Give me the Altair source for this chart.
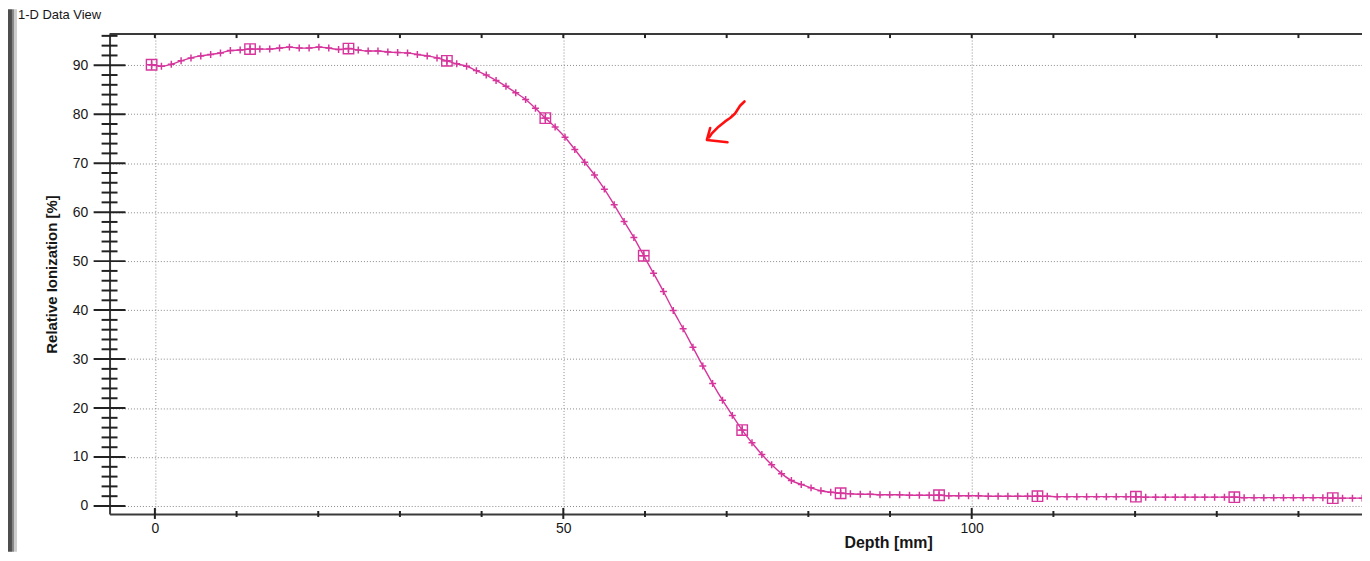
import altair as alt
import pandas as pd

# ---- measured depth-dose curve (depth in mm, relative ionization in %) ----
depth = [
    -0.40, 0.80, 2.01, 3.21, 4.42, 5.62, 6.83, 8.03, 9.24, 10.44,
    11.65, 12.85, 14.06, 15.26, 16.47, 17.67, 18.88, 20.08, 21.29, 22.49,
    23.70, 24.90, 26.11, 27.31, 28.52, 29.72, 30.93, 32.13, 33.34, 34.54,
    35.75, 36.95, 38.16, 39.36, 40.57, 41.77, 42.98, 44.18, 45.39, 46.59,
    47.80, 49.00, 50.21, 51.41, 52.62, 53.82, 55.03, 56.23, 57.44, 58.64,
    59.85, 61.05, 62.26, 63.46, 64.67, 65.87, 67.08, 68.28, 69.49, 70.69,
    71.90, 73.10, 74.31, 75.51, 76.72, 77.92, 79.13, 80.33, 81.54, 82.74,
    83.95, 85.15, 86.36, 87.56, 88.77, 89.97, 91.18, 92.38, 93.59, 94.79,
    96.00, 97.20, 98.41, 99.61, 100.82, 102.02, 103.23, 104.43, 105.64, 106.84,
    108.05, 109.25, 110.46, 111.66, 112.87, 114.07, 115.28, 116.48, 117.69, 118.89,
    120.10, 121.30, 122.51, 123.71, 124.92, 126.12, 127.33, 128.53, 129.74, 130.94,
    132.15, 133.35, 134.56, 135.76, 136.97, 138.17, 139.38, 140.58, 141.79, 142.99,
    144.20, 145.40, 146.61, 147.81, 149.02,
]
ionization = [
    90.1, 89.8, 90.2, 90.9, 91.5, 91.9, 92.2, 92.5, 93.0, 93.1,
    93.3, 93.3, 93.3, 93.5, 93.7, 93.5, 93.5, 93.7, 93.5, 93.2,
    93.4, 93.1, 92.9, 92.9, 92.7, 92.6, 92.5, 92.2, 91.9, 91.5,
    90.9, 90.3, 89.8, 88.9, 88.0, 86.9, 85.7, 84.4, 83.0, 81.2,
    79.2, 77.4, 75.3, 72.8, 70.2, 67.6, 64.7, 61.5, 58.1, 54.8,
    51.1, 47.5, 43.8, 39.9, 36.2, 32.4, 28.6, 25.0, 21.6, 18.5,
    15.5, 12.9, 10.5, 8.4, 6.6, 5.2, 4.4, 3.7, 3.1, 2.8,
    2.6, 2.5, 2.4, 2.4, 2.3, 2.3, 2.3, 2.2, 2.2, 2.2,
    2.2, 2.1, 2.1, 2.1, 2.1, 2.0, 2.0, 2.0, 2.0, 2.0,
    2.0, 2.0, 1.9, 1.9, 1.9, 1.9, 1.9, 1.9, 1.9, 1.9,
    1.9, 1.8, 1.8, 1.8, 1.8, 1.8, 1.8, 1.8, 1.8, 1.8,
    1.8, 1.7, 1.7, 1.7, 1.7, 1.7, 1.7, 1.7, 1.7, 1.7,
    1.6, 1.6, 1.6, 1.6, 1.6,
]

# ---- axis tick values ----
x_labels = [0, 50, 100]
x_minor = [10, 20, 30, 40, 60, 70, 80, 90, 110, 120, 130, 140]
x_top = [0, 10, 20, 30, 40, 50, 60, 70, 80, 90, 100, 110, 120, 130, 140]
y_major = [0, 10, 20, 30, 40, 50, 60, 70, 80, 90]
y_minor = [2, 4, 6, 8, 12, 14, 16, 18, 22, 24, 26, 28, 32, 34, 36, 38,
           42, 44, 46, 48, 52, 54, 56, 58, 62, 64, 66, 68, 72, 74, 76, 78,
           82, 84, 86, 88, 92, 94, 96]

# ---- hand-drawn red annotation arrow (in data coordinates) ----
arrow_x = [72.18, 71.64, 71.03, 70.42, 69.81, 69.01, 68.19, 67.86,
           67.98, 67.58, 70.10]
arrow_y = [82.60, 81.72, 80.16, 79.22, 78.53, 77.45, 76.09, 75.28,
           77.19, 74.75, 74.26]
arrow_part = ["shaft"] * 8 + ["head"] * 3
arrow_seq = list(range(8)) + list(range(3))

W, H = 1258, 482
FONT = "Liberation Sans"
PINK = "#d6369c"
INK = "#161616"

xscale = alt.Scale(domain=[-5.55, 147.78], nice=False, zero=False)
yscale = alt.Scale(domain=[-1.63, 96.36], nice=False, zero=False)

df = pd.DataFrame({"depth": depth, "ion": ionization, "i": list(range(len(depth)))})

x_axis = alt.Axis(
    values=x_labels, title="Depth [mm]", grid=True, gridDash=[1, 2],
    gridColor="#8a8a8a", gridWidth=1, ticks=False, tickSize=0, domain=True,
    domainColor="#3a3a3a", domainWidth=2, labelPadding=8, labelFontSize=14,
    labelFont=FONT, labelColor=INK, titleFont=FONT, titleFontSize=16,
    titleFontWeight="bold", titleColor=INK, titleX=782, titleY=21,
    titleAlign="center", titleBaseline="top",
)
y_axis = alt.Axis(
    values=y_major, title="Relative Ionization [%]", grid=True, gridDash=[1, 2],
    gridColor="#8a8a8a", gridWidth=1, ticks=False, tickSize=0, domain=True,
    domainColor="#3a3a3a", domainWidth=2, labelPadding=22, labelFontSize=14,
    labelFont=FONT, labelColor=INK, titleFont=FONT, titleFontSize=15,
    titleFontWeight="bold", titleColor=INK, titlePadding=13,
)

X = alt.X("depth:Q", scale=xscale, axis=x_axis)
Y = alt.Y("ion:Q", scale=yscale, axis=y_axis)

line = alt.Chart(df).mark_line(color=PINK, strokeWidth=1.4, interpolate="monotone", clip=True).encode(x=X, y=Y)

plus = alt.Chart(df).mark_point(
    shape="M-1,0H1M0,-1V1", size=49, filled=False, color=PINK, strokeWidth=1.5,
    opacity=1, clip=True,
).encode(x=X, y=Y)

squares = alt.Chart(df).transform_filter("datum.i % 10 == 0").mark_point(
    shape="M-1,-1H1V1H-1ZM-1,0H1M0,-1V1", size=110, filled=False, color=PINK,
    strokeWidth=1.4, opacity=1, clip=True,
).encode(x=X, y=Y)

# crossing ticks on the y axis
ymaj = alt.Chart(pd.DataFrame({"ion": y_major})).mark_rule(color="#222222", strokeWidth=2).encode(
    y=Y, x=alt.value(-16), x2=alt.value(16)
)
ymin = alt.Chart(pd.DataFrame({"ion": y_minor})).mark_rule(color="#222222", strokeWidth=2).encode(
    y=Y, x=alt.value(-8), x2=alt.value(8)
)
# ticks on the bottom axis
xmaj = alt.Chart(pd.DataFrame({"depth": x_labels})).mark_rule(color="#222222", strokeWidth=2).encode(
    x=X, y=alt.value(H - 6), y2=alt.value(H + 5)
)
xmin = alt.Chart(pd.DataFrame({"depth": x_minor})).mark_rule(color="#222222", strokeWidth=2).encode(
    x=X, y=alt.value(H - 3), y2=alt.value(H + 3)
)
# top frame line and its inward ticks
frame_df = pd.DataFrame({"k": [0]})
top_line = alt.Chart(frame_df).mark_rule(color="#3a3a3a", strokeWidth=2).encode(
    x=alt.value(0), x2=alt.value(W), y=alt.value(0)
)
xtop = alt.Chart(pd.DataFrame({"depth": x_top})).mark_rule(color="#222222", strokeWidth=2).encode(
    x=X, y=alt.value(0), y2=alt.value(4)
)

# window chrome on the left
band_dark = alt.Chart(frame_df).mark_rule(color="#4e4e4e", strokeWidth=4).encode(
    x=alt.value(-100), y=alt.value(-25), y2=alt.value(H + 38)
)
band_mid = alt.Chart(frame_df).mark_rule(color="#858585", strokeWidth=2).encode(
    x=alt.value(-97), y=alt.value(-25), y2=alt.value(H + 38)
)
band_light = alt.Chart(frame_df).mark_rule(color="#cdcdcd", strokeWidth=3).encode(
    x=alt.value(-94.5), y=alt.value(-25), y2=alt.value(H + 38)
)
window_title = alt.Chart(frame_df).mark_text(
    text="1-D Data View", align="left", baseline="middle", font=FONT, fontSize=13, color=INK
).encode(x=alt.value(-92), y=alt.value(-19))

arrow_df = pd.DataFrame({"depth": arrow_x, "ion": arrow_y, "part": arrow_part, "seq": arrow_seq})
arrow = alt.Chart(arrow_df).mark_line(color="#ff1010", strokeWidth=2.6, strokeCap="round", strokeJoin="round").encode(
    x=X, y=Y, detail="part:N", order="seq:Q",
)

chart = alt.layer(
    line, band_dark, band_mid, band_light, window_title, top_line, xtop,
    ymaj, ymin, xmaj, xmin, plus, squares, arrow,
).properties(
    width=W, height=H,
    autosize=alt.AutoSizeParams(type="none"),
    padding={"left": 102, "top": 25, "right": 0, "bottom": 38},
    background="white",
).configure_view(stroke=None)

chart.save("out.html", embed_options={"renderer": "svg", "actions": False})
